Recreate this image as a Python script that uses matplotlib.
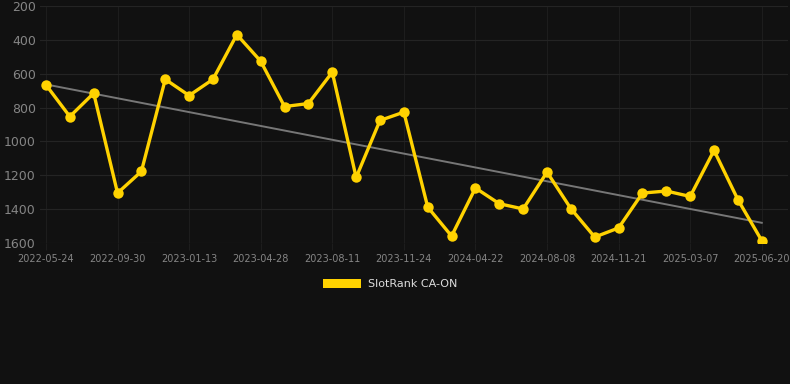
#!/usr/bin/env python3
import numpy as np
import matplotlib
matplotlib.use('Agg')
import matplotlib.pyplot as plt
from matplotlib.patches import Patch

# ---------------------
# Data
# ---------------------
ranks = [666, 853, 715, 1305, 1177, 633, 729, 633, 369, 526,
         794, 776, 591, 1213, 876, 827, 1388, 1559, 1275, 1368,
         1399, 1181, 1397, 1565, 1511, 1305, 1293, 1325, 1053, 1344,
         1586]
tick_labels = ['2022-05-24', '2022-09-30', '2023-01-13', '2023-04-28',
               '2023-08-11', '2023-11-24', '2024-04-22', '2024-08-08',
               '2024-11-21', '2025-03-07', '2025-06-20']
series_name = 'SlotRank CA-ON'

bg = '#111111'
gold = '#FFD200'
text_c = '#858585'

x = np.arange(len(ranks))
coef = np.polyfit(x, ranks, 1)
trend = np.polyval(coef, x)

fig = plt.figure(figsize=(7.9, 3.84), dpi=100, facecolor=bg)
ax = fig.add_axes([40/790, 1 - 243/384, 748/790, 237/384])
ax.set_facecolor(bg)

ax.plot(x, trend, color='#777777', lw=1.4, zorder=2)
ax.plot(x, ranks, color=gold, lw=2.4, marker='o', markersize=7.5,
        markeredgewidth=0, zorder=3)

ax.set_ylim(1600, 200)
ax.set_yticks([200, 400, 600, 800, 1000, 1200, 1400, 1600])
ax.set_xlim(-0.25, 31.1)
ax.set_xticks(x[::3])
ax.set_xticklabels(tick_labels)

ax.yaxis.grid(True, color='#242424', lw=0.8)
ax.xaxis.grid(True, color='#1d1d1d', lw=0.8)
ax.set_axisbelow(True)
for s in ax.spines.values():
    s.set_visible(False)
ax.tick_params(axis='y', length=0, labelcolor=text_c, labelsize=9, pad=3)
ax.tick_params(axis='x', length=5, color='#1d1d1d', labelcolor=text_c,
               labelsize=7, pad=3)

leg = fig.legend(handles=[Patch(facecolor=gold, edgecolor='none', label=series_name)],
                 loc='center', bbox_to_anchor=(390/790, 1 - 284/384),
                 frameon=False, fontsize=8, handlelength=3.5, handleheight=0.9,
                 handletextpad=0.6)
for t in leg.get_texts():
    t.set_color('#dddddd')

fig.savefig('out.png', dpi=100, facecolor=bg)
